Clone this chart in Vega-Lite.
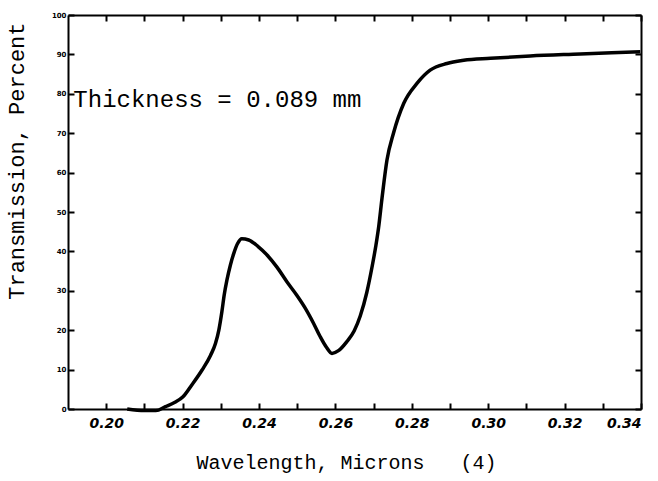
{
  "$schema": "https://vega.github.io/schema/vega-lite/v6.json",
  "width": 573,
  "height": 394,
  "autosize": {"type": "none"},
  "padding": {"left": 68, "top": 15, "right": 17, "bottom": 72},
  "background": "white",
  "config": {"view": {"stroke": null}},
  "datasets": {
    "curve": [
      {"w": 0.2055, "t": 0},
      {"w": 0.21, "t": -0.4},
      {"w": 0.213, "t": -0.4},
      {"w": 0.2155, "t": 0.6},
      {"w": 0.218, "t": 1.7},
      {"w": 0.2201, "t": 3.1},
      {"w": 0.2224, "t": 6.1},
      {"w": 0.2251, "t": 9.9},
      {"w": 0.2273, "t": 13.6},
      {"w": 0.2286, "t": 16.6},
      {"w": 0.2295, "t": 20.1},
      {"w": 0.2303, "t": 24.8},
      {"w": 0.2309, "t": 29.0},
      {"w": 0.2316, "t": 32.7},
      {"w": 0.2325, "t": 36.5},
      {"w": 0.2334, "t": 39.5},
      {"w": 0.2344, "t": 42.0},
      {"w": 0.2355, "t": 43.2},
      {"w": 0.2373, "t": 42.9},
      {"w": 0.2397, "t": 41.3},
      {"w": 0.2421, "t": 39.1},
      {"w": 0.2447, "t": 36.0},
      {"w": 0.2473, "t": 32.3},
      {"w": 0.2498, "t": 29.0},
      {"w": 0.2521, "t": 25.6},
      {"w": 0.2542, "t": 21.9},
      {"w": 0.256, "t": 18.4},
      {"w": 0.2577, "t": 15.6},
      {"w": 0.2591, "t": 14.1},
      {"w": 0.2608, "t": 14.8},
      {"w": 0.263, "t": 17.1},
      {"w": 0.2649, "t": 19.8},
      {"w": 0.2665, "t": 23.6},
      {"w": 0.2682, "t": 29.5},
      {"w": 0.2696, "t": 36.1},
      {"w": 0.2706, "t": 41.5},
      {"w": 0.2713, "t": 46.0},
      {"w": 0.2722, "t": 53.5},
      {"w": 0.2735, "t": 63.2},
      {"w": 0.2752, "t": 70},
      {"w": 0.2779, "t": 77.6},
      {"w": 0.2814, "t": 82.7},
      {"w": 0.2848, "t": 86.0},
      {"w": 0.2892, "t": 87.7},
      {"w": 0.2936, "t": 88.5},
      {"w": 0.3006, "t": 89.0},
      {"w": 0.311, "t": 89.6},
      {"w": 0.3241, "t": 90.1},
      {"w": 0.3398, "t": 90.7}
    ],
    "note": [
      {"w": 0.1914, "t": 76.6, "label": "Thickness = 0.089 mm"}
    ]
  },
  "layer": [
    {
      "data": {"name": "curve"},
      "mark": {"type": "line", "color": "black", "strokeWidth": 3.5, "interpolate": "monotone", "clip": false},
      "encoding": {
        "x": {
          "field": "w", "type": "quantitative",
          "scale": {"domain": [0.19, 0.34], "nice": false, "zero": false},
          "axis": {
            "orient": "bottom",
            "values": [0.20, 0.21, 0.22, 0.23, 0.24, 0.25, 0.26, 0.27, 0.28, 0.29, 0.30, 0.31, 0.32, 0.33, 0.34],
            "labelExpr": "round(datum.value*100) % 2 == 0 ? format(datum.value, '.2f') : ''",
            "title": "Wavelength,\u00a0Microns\u00a0\u00a0\u00a0(4)",
            "titleFont": "Liberation Mono",
            "titleFontSize": 20,
            "titleFontWeight": "normal",
            "titleColor": "black",
            "titleAnchor": "start",
            "titleAlign": "left",
            "titleX": 128,
            "titleY": 59,
            "titleBaseline": "alphabetic",
            "labelFont": "DejaVu Sans",
            "labelFontStyle": "italic",
            "labelFontWeight": "bold",
            "labelFontSize": 14,
            "labelColor": "black",
            "labelPadding": 13,
            "labelOverlap": false,
            "tickSize": -6,
            "tickColor": "black",
            "tickWidth": 2,
            "domainColor": "black",
            "domainWidth": 2,
            "grid": false
          }
        },
        "y": {
          "field": "t", "type": "quantitative",
          "scale": {"domain": [0, 100], "nice": false},
          "axis": {
            "orient": "left",
            "values": [0, 10, 20, 30, 40, 50, 60, 70, 80, 90, 100],
            "title": "Transmission, Percent",
            "titleFont": "Liberation Mono",
            "titleFontSize": 22,
            "titleFontWeight": "normal",
            "titleColor": "black",
            "titleAngle": -90,
            "titleAlign": "right",
            "titleBaseline": "middle",
            "titleX": -52,
            "titleY": 7,
            "labelFont": "DejaVu Sans",
            "labelFontWeight": "bold",
            "labelFontSize": 7,
            "labelColor": "black",
            "labelPadding": 8,
            "tickSize": -6,
            "tickColor": "black",
            "tickWidth": 2,
            "domainColor": "black",
            "domainWidth": 2,
            "grid": false
          }
        }
      }
    },
    {
      "data": {"name": "note"},
      "mark": {"type": "text", "font": "Liberation Mono", "fontSize": 24, "align": "left", "baseline": "alphabetic", "color": "black"},
      "encoding": {
        "x": {"field": "w", "type": "quantitative", "axis": {
          "orient": "top",
          "values": [0.20, 0.21, 0.22, 0.23, 0.24, 0.25, 0.26, 0.27, 0.28, 0.29, 0.30, 0.31, 0.32, 0.33, 0.34],
          "labels": false, "title": null, "tickSize": -6, "tickColor": "black", "tickWidth": 2,
          "domainColor": "black", "domainWidth": 2, "grid": false
        }},
        "y": {"field": "t", "type": "quantitative", "axis": {
          "orient": "right",
          "values": [0, 10, 20, 30, 40, 50, 60, 70, 80, 90, 100],
          "labels": false, "title": null, "tickSize": -6, "tickColor": "black", "tickWidth": 2,
          "domainColor": "black", "domainWidth": 2, "grid": false
        }},
        "text": {"field": "label", "type": "nominal"}
      }
    }
  ],
  "resolve": {"axis": {"x": "independent", "y": "independent"}}
}
